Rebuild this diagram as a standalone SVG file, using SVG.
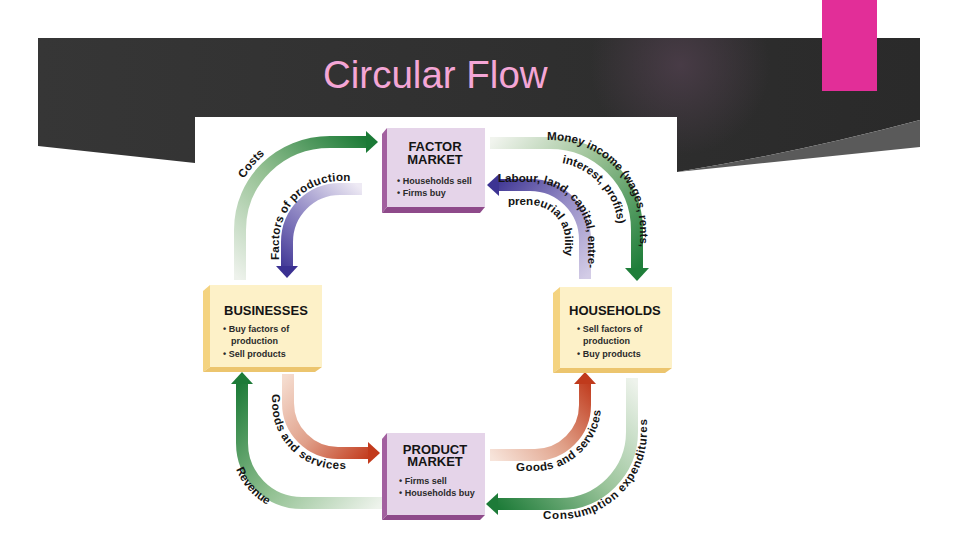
<svg xmlns="http://www.w3.org/2000/svg" xmlns:xlink="http://www.w3.org/1999/xlink" width="960" height="540" viewBox="0 0 960 540">
<style>
.band{fill:none;stroke-width:12}
.lbl{font-family:"Liberation Sans",Arial,sans-serif;font-weight:bold;font-size:11.6px;fill:#141414}
.bh{font-family:"Liberation Sans",Arial,sans-serif;font-weight:bold;font-size:13px;fill:#141414}
.bt{font-family:"Liberation Sans",Arial,sans-serif;font-weight:bold;font-size:9px;fill:#2a2a2a}
.pf{fill:#e5d4e9}
.ps{fill:#a2609f}
.pb{fill:#8e4a8a}
.yf{fill:#fdf1c8}
.ys{fill:#f4d380}
.yb{fill:#ecc56e}
</style>
<defs>
<linearGradient id="bg" x1="0" y1="0" x2="1" y2="0">
<stop offset="0" stop-color="#363636"/><stop offset="1" stop-color="#2a2a2a"/>
</linearGradient>
<radialGradient id="glow" cx="680" cy="65" r="90" gradientUnits="userSpaceOnUse">
<stop offset="0" stop-color="#4b3d49" stop-opacity="0.9"/><stop offset="1" stop-color="#4b3d49" stop-opacity="0"/>
</radialGradient>
<linearGradient id="gCosts" gradientUnits="userSpaceOnUse" x1="240" y1="280" x2="370" y2="142">
<stop offset="0" stop-color="#eef2ec"/><stop offset="0.5" stop-color="#94c092"/><stop offset="1" stop-color="#1b7a36"/>
</linearGradient>
<linearGradient id="gFactors" gradientUnits="userSpaceOnUse" x1="362" y1="189" x2="287" y2="278">
<stop offset="0" stop-color="#eeeaf4"/><stop offset="0.5" stop-color="#9088c4"/><stop offset="1" stop-color="#3b3192"/>
</linearGradient>
<linearGradient id="gMoney" gradientUnits="userSpaceOnUse" x1="490" y1="143" x2="637" y2="270">
<stop offset="0" stop-color="#f1f4ee"/><stop offset="0.45" stop-color="#9cc296"/><stop offset="1" stop-color="#1f7e3a"/>
</linearGradient>
<linearGradient id="gLabour" gradientUnits="userSpaceOnUse" x1="585" y1="279" x2="490" y2="185">
<stop offset="0" stop-color="#d3cce6"/><stop offset="0.5" stop-color="#968dc6"/><stop offset="1" stop-color="#3d3493"/>
</linearGradient>
<linearGradient id="gGoodsL" gradientUnits="userSpaceOnUse" x1="288" y1="374" x2="375" y2="453">
<stop offset="0" stop-color="#f5dccf"/><stop offset="0.5" stop-color="#e0a08a"/><stop offset="1" stop-color="#c23a1c"/>
</linearGradient>
<linearGradient id="gRevenue" gradientUnits="userSpaceOnUse" x1="382" y1="503" x2="242" y2="380">
<stop offset="0" stop-color="#eef3ec"/><stop offset="0.5" stop-color="#8fbf8f"/><stop offset="1" stop-color="#1d7b38"/>
</linearGradient>
<linearGradient id="gGoodsR" gradientUnits="userSpaceOnUse" x1="490" y1="455" x2="585" y2="375">
<stop offset="0" stop-color="#f7e4da"/><stop offset="0.5" stop-color="#e0a088"/><stop offset="1" stop-color="#c03a1c"/>
</linearGradient>
<linearGradient id="gCons" gradientUnits="userSpaceOnUse" x1="632" y1="378" x2="495" y2="504">
<stop offset="0" stop-color="#eef3ec"/><stop offset="0.5" stop-color="#9ac49a"/><stop offset="1" stop-color="#1d7b38"/>
</linearGradient>
<path id="tCosts" d="M230,280 L230,230 C230,174.8 274.8,130 330,130 L370,130"/>
<path id="tFactors" d="M279,280 L279,242 C279,208.3 306.3,181 340,181 L368,181"/>
<path id="tMoney" d="M490,140 L550,140 C599.7,140 640,180.3 640,230 L640,300"/>
<path id="tInterest" d="M490,162 L550,162 C587.5,162 618,192.5 618,230 L618,290"/>
<path id="tLabour" d="M497,182 L530,182 C562,182 588,208 588,240 L588,300"/>
<path id="tPren" d="M500,205 L530,205 C549.3,205 565,220.7 565,240 L565,290"/>
<path id="tGoodsL" d="M272,380 L272,403 C272,439.4 301.6,469 338,469 L395,469"/>
<path id="tRevenue" d="M231,383 L231,443 C231,482.2 262.8,514 302,514 L382,514"/>
<path id="tGoodsR" d="M470,471 L535,471 C571.4,471 601,441.4 601,405 L601,360"/>
<path id="tCons" d="M480,519 L560,519 C608,519 647,480 647,432 L647,360"/>
</defs>

<g id="background">
<rect x="0" y="0" width="960" height="540" fill="#ffffff"/>
<path d="M38,38 L920,38 L920,120 Q800,152 677,172 L195,163 L38,146 Z" fill="url(#bg)"/>
<rect x="38" y="38" width="882" height="130" fill="url(#glow)"/>
<path d="M920,120 Q800,152 677,172 L920,147 Z" fill="#5a5a5a"/>
<rect x="822" y="0" width="55" height="91" fill="#e22e98"/>
<text x="323" y="88" font-family="'Liberation Sans', Arial, sans-serif" font-size="38.5" fill="#f4a6d6">Circular Flow</text>
<rect x="195" y="117" width="482" height="423" fill="#ffffff"/>
</g>

<g id="connectors">
<g id="c-costs">
<path class="band" stroke="url(#gCosts)" d="M240,280 L240,230 C240,180.3 280.3,142 330,142 L367,142"/>
<polygon points="366,131 378,142 366,153" fill="#1b7a36"/>
<text class="lbl"><textPath xlink:href="#tCosts" href="#tCosts" startOffset="120" text-anchor="middle">Costs</textPath></text>
</g>
<g id="c-factors">
<path class="band" stroke="url(#gFactors)" d="M362,189 L340,189 C310.7,189 287,212.7 287,242 L287,267"/>
<polygon points="276,266 287,278 298,266" fill="#3b3192"/>
<text class="lbl" letter-spacing="0.2"><textPath xlink:href="#tFactors" href="#tFactors" startOffset="20">Factors of production</textPath></text>
</g>
<g id="c-money">
<path class="band" stroke="url(#gMoney)" d="M490,143 L550,143 C598,143 637,182 637,230 L637,269"/>
<polygon points="625,268 637,281 649,268" fill="#1f7e3a"/>
<text class="lbl"><textPath xlink:href="#tMoney" href="#tMoney" startOffset="57">Money income (wages, rents,</textPath></text>
<text class="lbl"><textPath xlink:href="#tInterest" href="#tInterest" startOffset="72">interest, profits)</textPath></text>
</g>
<g id="c-labour">
<path class="band" stroke="url(#gLabour)" d="M585,279 L585,240 C585,209.6 560.4,185 530,185 L499,185"/>
<polygon points="499,174 487,185 499,196" fill="#3d3493"/>
<text class="lbl"><textPath xlink:href="#tLabour" href="#tLabour" startOffset="1">Labour, land, capital, entre-</textPath></text>
<text class="lbl"><textPath xlink:href="#tPren" href="#tPren" startOffset="8">preneurial ability</textPath></text>
</g>
<g id="c-goods-left">
<path class="band" stroke="url(#gGoodsL)" d="M288,374 L288,403 C288,430.6 310.4,453 338,453 L369,453"/>
<polygon points="368,442 380,453 368,464" fill="#c23a1c"/>
<text class="lbl" letter-spacing="0.6"><textPath xlink:href="#tGoodsL" href="#tGoodsL" startOffset="14">Goods and services</textPath></text>
</g>
<g id="c-revenue">
<path class="band" stroke="url(#gRevenue)" d="M382,503 L302,503 C268.9,503 242,476.1 242,443 L242,384"/>
<polygon points="231,384 242,372 253,384" fill="#1d7b38"/>
<text class="lbl"><textPath xlink:href="#tRevenue" href="#tRevenue" startOffset="111" text-anchor="middle">Revenue</textPath></text>
</g>
<g id="c-goods-right">
<path class="band" stroke="url(#gGoodsR)" d="M490,455 L535,455 C562.6,455 585,432.6 585,405 L585,384"/>
<polygon points="574,384 585,372 596,384" fill="#c03a1c"/>
<text class="lbl" letter-spacing="0.4"><textPath xlink:href="#tGoodsR" href="#tGoodsR" startOffset="46">Goods and services</textPath></text>
</g>
<g id="c-consumption">
<path class="band" stroke="url(#gCons)" d="M632,378 L632,432 C632,471.7 599.7,504 560,504 L498,504"/>
<polygon points="498,493 486,504 498,515" fill="#1d7b38"/>
<text class="lbl" letter-spacing="0.7"><textPath xlink:href="#tCons" href="#tCons" startOffset="63">Consumption expenditures</textPath></text>
</g>
</g>

<g id="factor-market">
<polygon class="ps" points="387,128 382,134 382,213 387,207"/>
<polygon class="pb" points="387,207 382,213 480,213 485,207"/>
<rect class="pf" x="387" y="128" width="98" height="79"/>
<text class="bh" x="435" y="151" text-anchor="middle">FACTOR</text>
<text class="bh" x="435" y="164" text-anchor="middle">MARKET</text>
<text class="bt" x="397" y="184">• Households sell</text>
<text class="bt" x="397" y="196">• Firms buy</text>
</g>

<g id="product-market">
<polygon class="ps" points="387,433 382,439 382,520 387,515"/>
<polygon class="pb" points="387,515 382,520 480,520 485,515"/>
<rect class="pf" x="387" y="433" width="98" height="82"/>
<text class="bh" x="435" y="454" text-anchor="middle">PRODUCT</text>
<text class="bh" x="435" y="466" text-anchor="middle">MARKET</text>
<text class="bt" x="399" y="484">• Firms sell</text>
<text class="bt" x="399" y="496">• Households buy</text>
</g>

<g id="businesses">
<polygon class="ys" points="210,285 203,291 203,372 210,367"/>
<polygon class="yb" points="210,367 203,372 315,372 322,367"/>
<rect class="yf" x="210" y="285" width="112" height="82"/>
<text class="bh" x="224" y="315">BUSINESSES</text>
<text class="bt" x="223" y="332">• Buy factors of</text>
<text class="bt" x="231" y="344">production</text>
<text class="bt" x="223" y="357">• Sell products</text>
</g>

<g id="households">
<polygon class="ys" points="560,287 553,293 553,373 560,368"/>
<polygon class="yb" points="560,368 553,373 665,373 672,368"/>
<rect class="yf" x="560" y="287" width="112" height="81"/>
<text class="bh" x="569" y="315">HOUSEHOLDS</text>
<text class="bt" x="577" y="332">• Sell factors of</text>
<text class="bt" x="583" y="344">production</text>
<text class="bt" x="577" y="357">• Buy products</text>
</g>
</svg>
